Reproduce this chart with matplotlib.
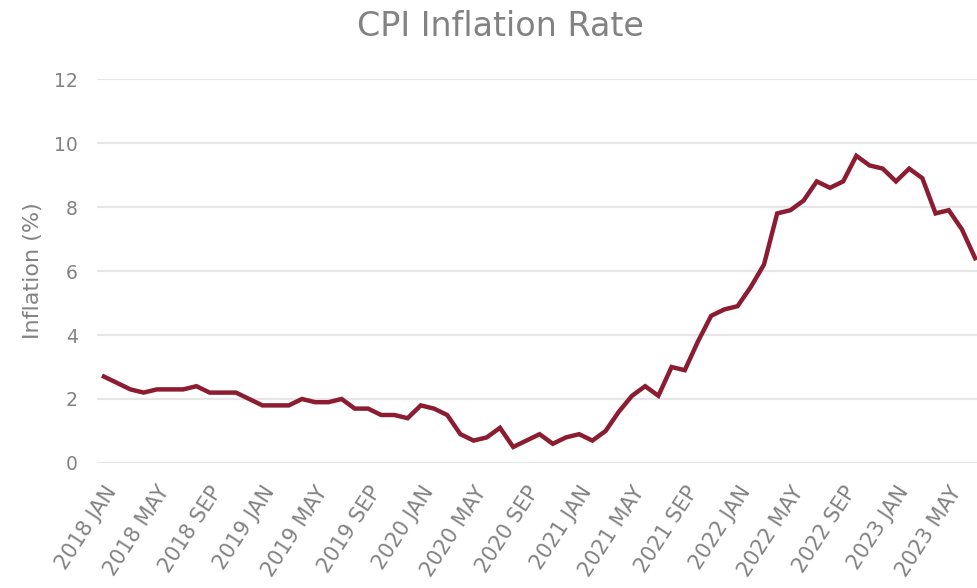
import matplotlib
matplotlib.use("Agg")
import matplotlib.pyplot as plt

# Monthly CPI inflation, Jan 2018 - Jul 2023
month_names = ["JAN", "FEB", "MAR", "APR", "MAY", "JUN",
               "JUL", "AUG", "SEP", "OCT", "NOV", "DEC"]
start_year = 2018
inflation = [
    2.7, 2.5, 2.3, 2.2, 2.3, 2.3, 2.3, 2.4, 2.2, 2.2, 2.2, 2.0,   # 2018
    1.8, 1.8, 1.8, 2.0, 1.9, 1.9, 2.0, 1.7, 1.7, 1.5, 1.5, 1.4,   # 2019
    1.8, 1.7, 1.5, 0.9, 0.7, 0.8, 1.1, 0.5, 0.7, 0.9, 0.6, 0.8,   # 2020
    0.9, 0.7, 1.0, 1.6, 2.1, 2.4, 2.1, 3.0, 2.9, 3.8, 4.6, 4.8,   # 2021
    4.9, 5.5, 6.2, 7.8, 7.9, 8.2, 8.8, 8.6, 8.8, 9.6, 9.3, 9.2,   # 2022
    8.8, 9.2, 8.9, 7.8, 7.9, 7.3, 6.4,                            # 2023
]
y_ticks = [0, 2, 4, 6, 8, 10, 12]
label_step = 4

periods = [f"{start_year + i // 12} {month_names[i % 12]}" for i in range(len(inflation))]
x = list(range(len(inflation)))

plt.rcParams["font.family"] = ["DejaVu Sans"]
text_gray = "#828282"

fig = plt.figure(figsize=(9.77, 5.88), dpi=100)
ax = fig.add_axes([0.0993, 0.2126, 0.9007, 0.653])

ax.plot(x, inflation, color="#8b1c31", linewidth=3.2, solid_joinstyle="miter",
        zorder=3, clip_on=True)

ax.set_ylim(0, 12)
ax.set_xlim(-0.53, 66.14)
ax.set_yticks(y_ticks)
ax.set_yticklabels([str(v) for v in y_ticks])
ax.grid(axis="y", color="#e6e6e6", linewidth=1.6)
ax.set_axisbelow(True)

tick_pos = x[::label_step]
ax.set_xticks(tick_pos)
ax.set_xticklabels([periods[i] for i in tick_pos], rotation=57,
                   ha="right", va="top", rotation_mode="anchor")

ax.tick_params(axis="both", length=0, colors=text_gray)
ax.tick_params(axis="y", pad=14, labelsize=13.5)
ax.tick_params(axis="x", pad=14, labelsize=15)

for side in ax.spines.values():
    side.set_visible(False)

ax.set_ylabel("Inflation (%)", fontsize=16, color=text_gray, labelpad=8)

fig.text(500 / 977, 1 - 26 / 588, "CPI Inflation Rate", ha="center", va="center",
         fontsize=24, color=text_gray)

fig.savefig("out.png", dpi=100)
